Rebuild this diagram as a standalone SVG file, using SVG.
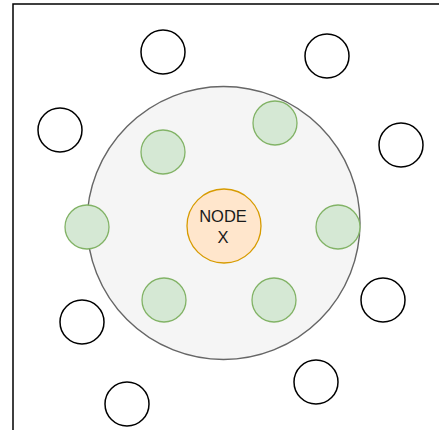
<svg xmlns="http://www.w3.org/2000/svg" width="439" height="430" viewBox="0 0 439 430">
  <style>
    .outer { fill: #ffffff; stroke: #000000; stroke-width: 1.5; }
    .inner { fill: #d5e8d4; stroke: #82b366; stroke-width: 1.3; }
    .zone { fill: #f5f5f5; stroke: #666666; stroke-width: 1.4; }
    .center { fill: #ffe6cc; stroke: #d79b00; stroke-width: 1.3; }
    .label { font-family: "Liberation Sans", Arial, sans-serif; font-size: 16.5px; fill: #1a1a1a; text-anchor: middle; }
    .frame { fill: none; stroke: #000000; stroke-width: 1.5; }
  </style>
  <rect width="439" height="430" fill="#ffffff"/>
  <!-- border -->
  <path class="frame" d="M13,430 V4 H439"/>

  <!-- neighbourhood zone -->
  <g id="zone">
    <circle class="zone" cx="223.5" cy="223" r="136.5"/>
  </g>

  <!-- outer nodes -->
  <g id="outer-1"><circle class="outer" cx="163" cy="52" r="22"/></g>
  <g id="outer-2"><circle class="outer" cx="327" cy="56" r="22"/></g>
  <g id="outer-3"><circle class="outer" cx="60" cy="130" r="22"/></g>
  <g id="outer-4"><circle class="outer" cx="401" cy="145" r="22"/></g>
  <g id="outer-5"><circle class="outer" cx="383" cy="300" r="22"/></g>
  <g id="outer-6"><circle class="outer" cx="82" cy="322" r="22"/></g>
  <g id="outer-7"><circle class="outer" cx="316" cy="382" r="22"/></g>
  <g id="outer-8"><circle class="outer" cx="127" cy="404" r="22"/></g>

  <!-- neighbour nodes -->
  <g id="inner-1"><circle class="inner" cx="163" cy="152" r="22"/></g>
  <g id="inner-2"><circle class="inner" cx="275" cy="123" r="22"/></g>
  <g id="inner-3"><circle class="inner" cx="87" cy="227" r="22"/></g>
  <g id="inner-4"><circle class="inner" cx="338" cy="227" r="22"/></g>
  <g id="inner-5"><circle class="inner" cx="164" cy="300" r="22"/></g>
  <g id="inner-6"><circle class="inner" cx="274" cy="300" r="22"/></g>

  <!-- central node -->
  <g id="node-x">
    <circle class="center" cx="224" cy="226" r="37"/>
    <text class="label" x="223" y="222">NODE</text>
    <text class="label" x="223" y="243">X</text>
  </g>

  <g id="connectors"></g>
</svg>
